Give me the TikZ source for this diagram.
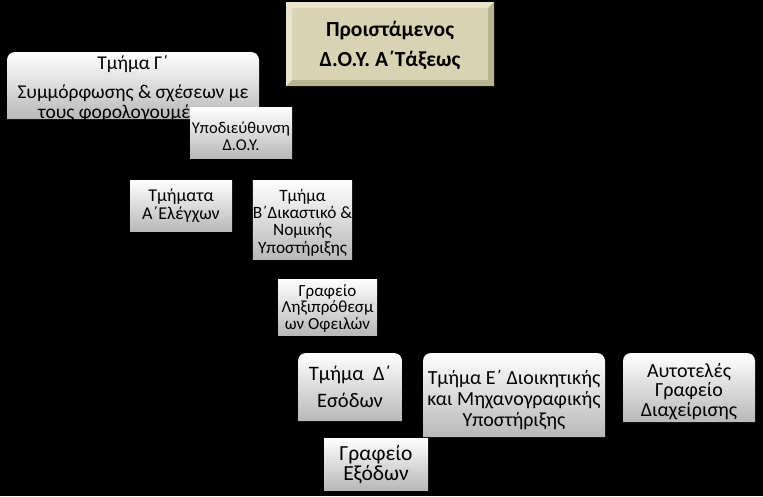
\documentclass[tikz,border=0pt]{standalone}
\usepackage{fontspec}
\setmainfont{Carlito}
\usepackage{tikz}

\definecolor{bosstan}{RGB}{216,211,178}
\definecolor{bosslight}{RGB}{232,228,206}
\definecolor{bossdark}{RGB}{186,180,146}
\definecolor{boxgray}{RGB}{184,184,184}

\begin{document}
\begin{tikzpicture}[
                x=1pt, y=-1pt,                % pixel grid, y downwards
                every node/.style={
                    rectangle,
                    inner sep=0pt,
                    align=center,
                    text=black
                },
                flat/.style={top color=white, bottom color=boxgray},
                tab/.style={fill=black, path picture={
                    \shade[top color=white, bottom color=boxgray]
                        (path picture bounding box.south west) [rounded corners=8pt]
                        -- (path picture bounding box.north west)
                        -- (path picture bounding box.north east) [sharp corners]
                        -- (path picture bounding box.south east) -- cycle;}},
                boss/.style={fill=bosstan, font=\bfseries\fontsize{21.5}{30}\selectfont,
                    path picture={
                    \fill[bosslight] (path picture bounding box.south west)
                        -- (path picture bounding box.north west)
                        -- (path picture bounding box.north east)
                        -- ([xshift=-6pt,yshift=-6pt]path picture bounding box.north east)
                        -- ([xshift=6pt,yshift=-6pt]path picture bounding box.north west)
                        -- ([xshift=6pt,yshift=6pt]path picture bounding box.south west) -- cycle;
                    \fill[bossdark] (path picture bounding box.south west)
                        -- (path picture bounding box.south east)
                        -- (path picture bounding box.north east)
                        -- ([xshift=-6pt,yshift=-6pt]path picture bounding box.north east)
                        -- ([xshift=-6pt,yshift=6pt]path picture bounding box.south east)
                        -- ([xshift=6pt,yshift=6pt]path picture bounding box.south west) -- cycle;}}
            ]
                % background
                \fill[black] (0,0) rectangle (763,496);
                \useasboundingbox (0,0) rectangle (763,496);

                % head
                \node[boss, minimum width=208, minimum height=84, text height=64.7, text depth=19.3] (boss) at (390,44) {Προιστάμενος\\Δ.Ο.Υ. Α΄Τάξεως};

                % upper left group
                \node[tab, minimum width=252, minimum height=67] (tmG) at (133,85.5) {};
                \begin{scope}
                    \clip (tmG.south west) rectangle (tmG.north east);
                    \node[font=\fontsize{19.5}{20}\selectfont, anchor=base] (tmGtext) at (133,118.5) {Τμήμα Γ΄\\[9pt]Συμμόρφωσης \& σχέσεων με\\τους φορολογουμένους};
                \end{scope}
                \node[flat, minimum width=102, minimum height=51, text height=43.7, text depth=7.3, font=\fontsize{16.5}{17.4}\selectfont] (ypo) at (241,132.5) {Υποδιεύθυνση\\Δ.Ο.Υ.};

                % middle
                \node[flat, minimum width=102, minimum height=51, text height=39.3, text depth=11.7, font=\fontsize{18}{17.6}\selectfont] (tmA) at (181,205.5) {Τμήματα\\Α΄Ελέγχων};
                \node[flat, minimum width=99, minimum height=79, text height=73, text depth=6, font=\fontsize{17.3}{17.3}\selectfont] (tmB) at (302.5,219.5) {Τμήμα\\Β΄Δικαστικό \&\\Νομικής\\Υποστήριξης};
                \node[flat, minimum width=99, minimum height=56, text height=50.5, text depth=5.5, font=\fontsize{17}{16.7}\selectfont] (grL) at (327.5,307) {Γραφείο\\Ληξιπρόθεσμ\\ων Οφειλών};

                % bottom row
                \node[tab, minimum width=104, minimum height=68, text height=54, text depth=14, font=\fontsize{20.5}{19}\selectfont] (tmD) at (350,387) {Τμήμα~~Δ΄\\[8pt]Εσόδων};
                \node[flat, minimum width=104, minimum height=52, text height=42, text depth=10, font=\fontsize{21.5}{18.3}\selectfont] (grE) at (376,464) {Γραφείο\\Εξόδων};
                \node[tab, minimum width=182, minimum height=84, text height=73.7, text depth=10.3, font=\fontsize{20}{21}\selectfont] (tmE) at (514,395) {Τμήμα Ε΄ Διοικητικής\\και Μηχανογραφικής\\Υποστήριξης};
                \node[tab, minimum width=132, minimum height=69, text height=63, text depth=6, font=\fontsize{20}{19.5}\selectfont] (auto) at (689,387.5) {Αυτοτελές\\Γραφείο\\Διαχείρισης};
            \end{tikzpicture}
\end{document}
